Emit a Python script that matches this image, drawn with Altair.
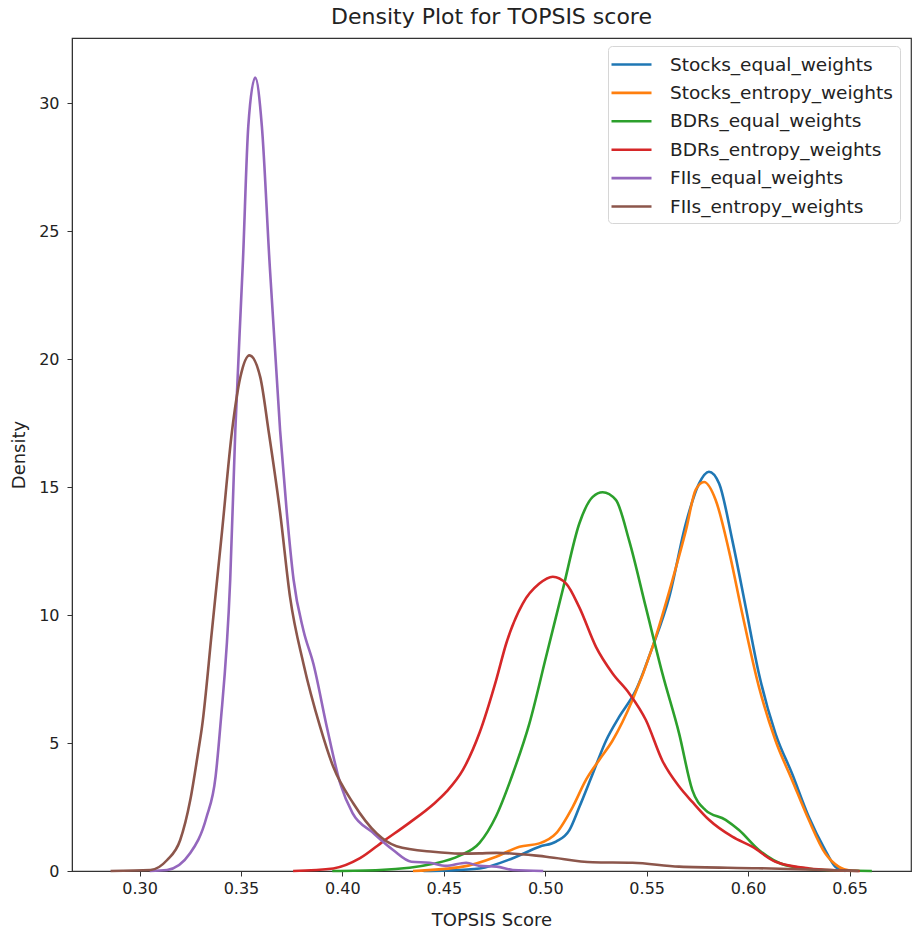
import altair as alt
import pandas as pd

series_names = [
    "Stocks_equal_weights",
    "Stocks_entropy_weights",
    "BDRs_equal_weights",
    "BDRs_entropy_weights",
    "FIIs_equal_weights",
    "FIIs_entropy_weights",
]
series_colors = ["#1f77b4", "#ff7f0e", "#2ca02c", "#d62728", "#9467bd", "#8c564b"]

stocks_eq_x = [0.440, 0.4513, 0.4676, 0.484, 0.4971, 0.5053, 0.5119, 0.5168, 0.5234, 0.530, 0.5365,
               0.5447, 0.5529, 0.5611, 0.5693, 0.5758, 0.5807, 0.5857, 0.5922, 0.5988, 0.6053, 0.6135,
               0.6217, 0.6299, 0.638, 0.643, 0.648]
stocks_eq_y = [0.0, 0.02, 0.1, 0.5, 0.95, 1.15, 1.6, 2.5, 3.8, 5.1, 6.03,
               7.07, 8.76, 10.7, 13.58, 15.14, 15.6, 15.14, 12.93, 10.32, 7.72, 5.37,
               3.8, 2.12, 0.82, 0.17, 0.0]

stocks_en_x = [0.4348, 0.4594, 0.4758, 0.4873, 0.4971, 0.5053, 0.5135, 0.520, 0.5266, 0.5332, 0.543,
               0.5529, 0.5627, 0.5693, 0.5742, 0.5783, 0.584, 0.5906, 0.5971, 0.6053, 0.6135, 0.6217,
               0.6299, 0.638, 0.6446, 0.651]
stocks_en_y = [0.0, 0.17, 0.56, 0.95, 1.08, 1.47, 2.5, 3.55, 4.34, 5.1, 6.68,
               8.76, 11.37, 13.3, 14.9, 15.2, 14.5, 12.5, 10.06, 7.2, 5.1, 3.55,
               2.0, 0.69, 0.17, 0.0]

bdr_eq_x = [0.395, 0.4185, 0.4447, 0.4578, 0.4676, 0.4758, 0.484, 0.4922, 0.5004, 0.5086, 0.5168,
            0.5234, 0.5283, 0.5348, 0.5414, 0.5496, 0.5578, 0.566, 0.5725, 0.579, 0.5889, 0.5955,
            0.6053, 0.6184, 0.638, 0.661]
bdr_eq_y = [0.0, 0.04, 0.28, 0.6, 1.1, 2.15, 3.8, 5.77, 8.37, 10.98, 13.58,
            14.62, 14.8, 14.5, 12.9, 10.3, 7.7, 5.37, 3.16, 2.38, 2.0, 1.6,
            0.82, 0.23, 0.04, 0.0]

bdr_en_x = [0.3757, 0.3955, 0.4087, 0.420, 0.4333, 0.4447, 0.4513, 0.4594, 0.4676, 0.4758, 0.4808,
            0.4889, 0.4971, 0.5037, 0.5103, 0.5168, 0.525, 0.5332, 0.5414, 0.5496, 0.5578, 0.566,
            0.5725, 0.5807, 0.5922, 0.602, 0.6135, 0.630, 0.655]
bdr_en_y = [0.0, 0.1, 0.5, 1.15, 1.9, 2.6, 3.1, 3.95, 5.4, 7.46, 8.9,
            10.45, 11.23, 11.5, 11.23, 10.3, 8.76, 7.72, 6.94, 5.9, 4.3, 3.3,
            2.7, 2.0, 1.34, 0.95, 0.36, 0.1, 0.0]

fii_eq_x = [0.305, 0.3136, 0.325, 0.333, 0.3375, 0.3398, 0.3447, 0.3472, 0.351, 0.3536, 0.357,
            0.3603, 0.364, 0.3693, 0.3726, 0.3759, 0.3808, 0.3857, 0.3923, 0.399, 0.405, 0.415,
            0.425, 0.434, 0.443, 0.451, 0.461, 0.4676, 0.476, 0.484, 0.499]
fii_eq_y = [0.0, 0.04, 0.7, 2.1, 3.7, 5.64, 11.4, 17.2, 23.9, 29.1, 31.0,
            29.1, 23.9, 17.2, 14.0, 11.4, 9.4, 8.1, 5.64, 3.4, 2.26, 1.5,
            0.82, 0.36, 0.32, 0.2, 0.32, 0.2, 0.17, 0.04, 0.0]

fii_en_x = [0.2857, 0.3054, 0.3136, 0.320, 0.325, 0.329, 0.3308, 0.3357, 0.3407, 0.3456, 0.3497,
            0.3542, 0.3595, 0.3636, 0.3693, 0.3742, 0.3808, 0.389, 0.3955, 0.4054, 0.4169, 0.4267,
            0.4447, 0.4578, 0.4676, 0.4759, 0.5004, 0.5234, 0.543, 0.566, 0.605, 0.638, 0.6545]
fii_en_y = [0.0, 0.04, 0.43, 1.2, 2.77, 4.7, 5.64, 9.4, 13.3, 17.2, 19.3,
            20.15, 19.3, 17.2, 14.0, 10.7, 8.1, 5.64, 4.07, 2.64, 1.47, 0.97,
            0.75, 0.68, 0.69, 0.71, 0.56, 0.34, 0.32, 0.17, 0.11, 0.04, 0.0]

all_x = [stocks_eq_x, stocks_en_x, bdr_eq_x, bdr_en_x, fii_eq_x, fii_en_x]
all_y = [stocks_eq_y, stocks_en_y, bdr_eq_y, bdr_en_y, fii_eq_y, fii_en_y]

x_ticks = [0.30, 0.35, 0.40, 0.45, 0.50, 0.55, 0.60, 0.65]
y_ticks = [0, 5, 10, 15, 20, 25, 30]

rows = []
for k, (name, xs, ys) in enumerate(zip(series_names, all_x, all_y)):
    for i, (xv, yv) in enumerate(zip(xs, ys)):
        rows.append({"series": name, "order": k, "idx": i, "score": xv, "density": yv})
df = pd.DataFrame(rows)

FONT = "DejaVu Sans"

chart = alt.Chart(df).mark_line(interpolate="monotone", strokeWidth=2.6).encode(
    x=alt.X("score:Q",
            scale=alt.Scale(domain=[0.2667, 0.6803], nice=False, zero=False),
            axis=alt.Axis(title="TOPSIS Score", values=x_ticks, format=".2f",
                          grid=False, tickSize=5, labelPadding=4, titlePadding=15,
                          labelFontSize=16, titleFontSize=18, labelFlush=False)),
    y=alt.Y("density:Q",
            scale=alt.Scale(domain=[0, 32.55], nice=False),
            axis=alt.Axis(title="Density", values=y_ticks, grid=False, tickSize=5,
                          labelPadding=8, titlePadding=10,
                          labelFontSize=16, titleFontSize=18)),
    color=alt.Color("series:N",
                    scale=alt.Scale(domain=series_names, range=series_colors),
                    sort=series_names,
                    legend=alt.Legend(title=None, orient="none", legendX=536, legendY=8,
                                      symbolType="M-1.5,0H2.5", symbolSize=400,
                                      symbolStrokeWidth=2.6,
                                      labelFontSize=18.5, labelOffset=32, labelLimit=0,
                                      rowPadding=7.4,
                                      padding=7, strokeColor="#d6d6d6", fillColor="white",
                                      cornerRadius=4)),
    detail="series:N",
    order="idx:Q",
).properties(
    width=839,
    height=833,
    title=alt.TitleParams("Density Plot for TOPSIS score", fontSize=22, fontWeight="normal",
                          offset=9, anchor="middle"),
    autosize=alt.AutoSizeParams(type="none"),
    padding={"left": 72, "top": 38, "right": 4, "bottom": 64},
).configure(
    font=FONT,
).configure_view(
    stroke="#333333", strokeWidth=1.2,
).configure_axis(
    labelColor="#222222", titleColor="#222222", tickColor="#333333",
    domainColor="#333333", labelFont=FONT, titleFont=FONT, titleFontWeight="normal",
).configure_legend(
    labelFont=FONT, labelColor="#222222",
).configure_title(
    font=FONT, color="#222222",
)

chart.save("out.html", embed_options={"renderer": "svg", "actions": False})
